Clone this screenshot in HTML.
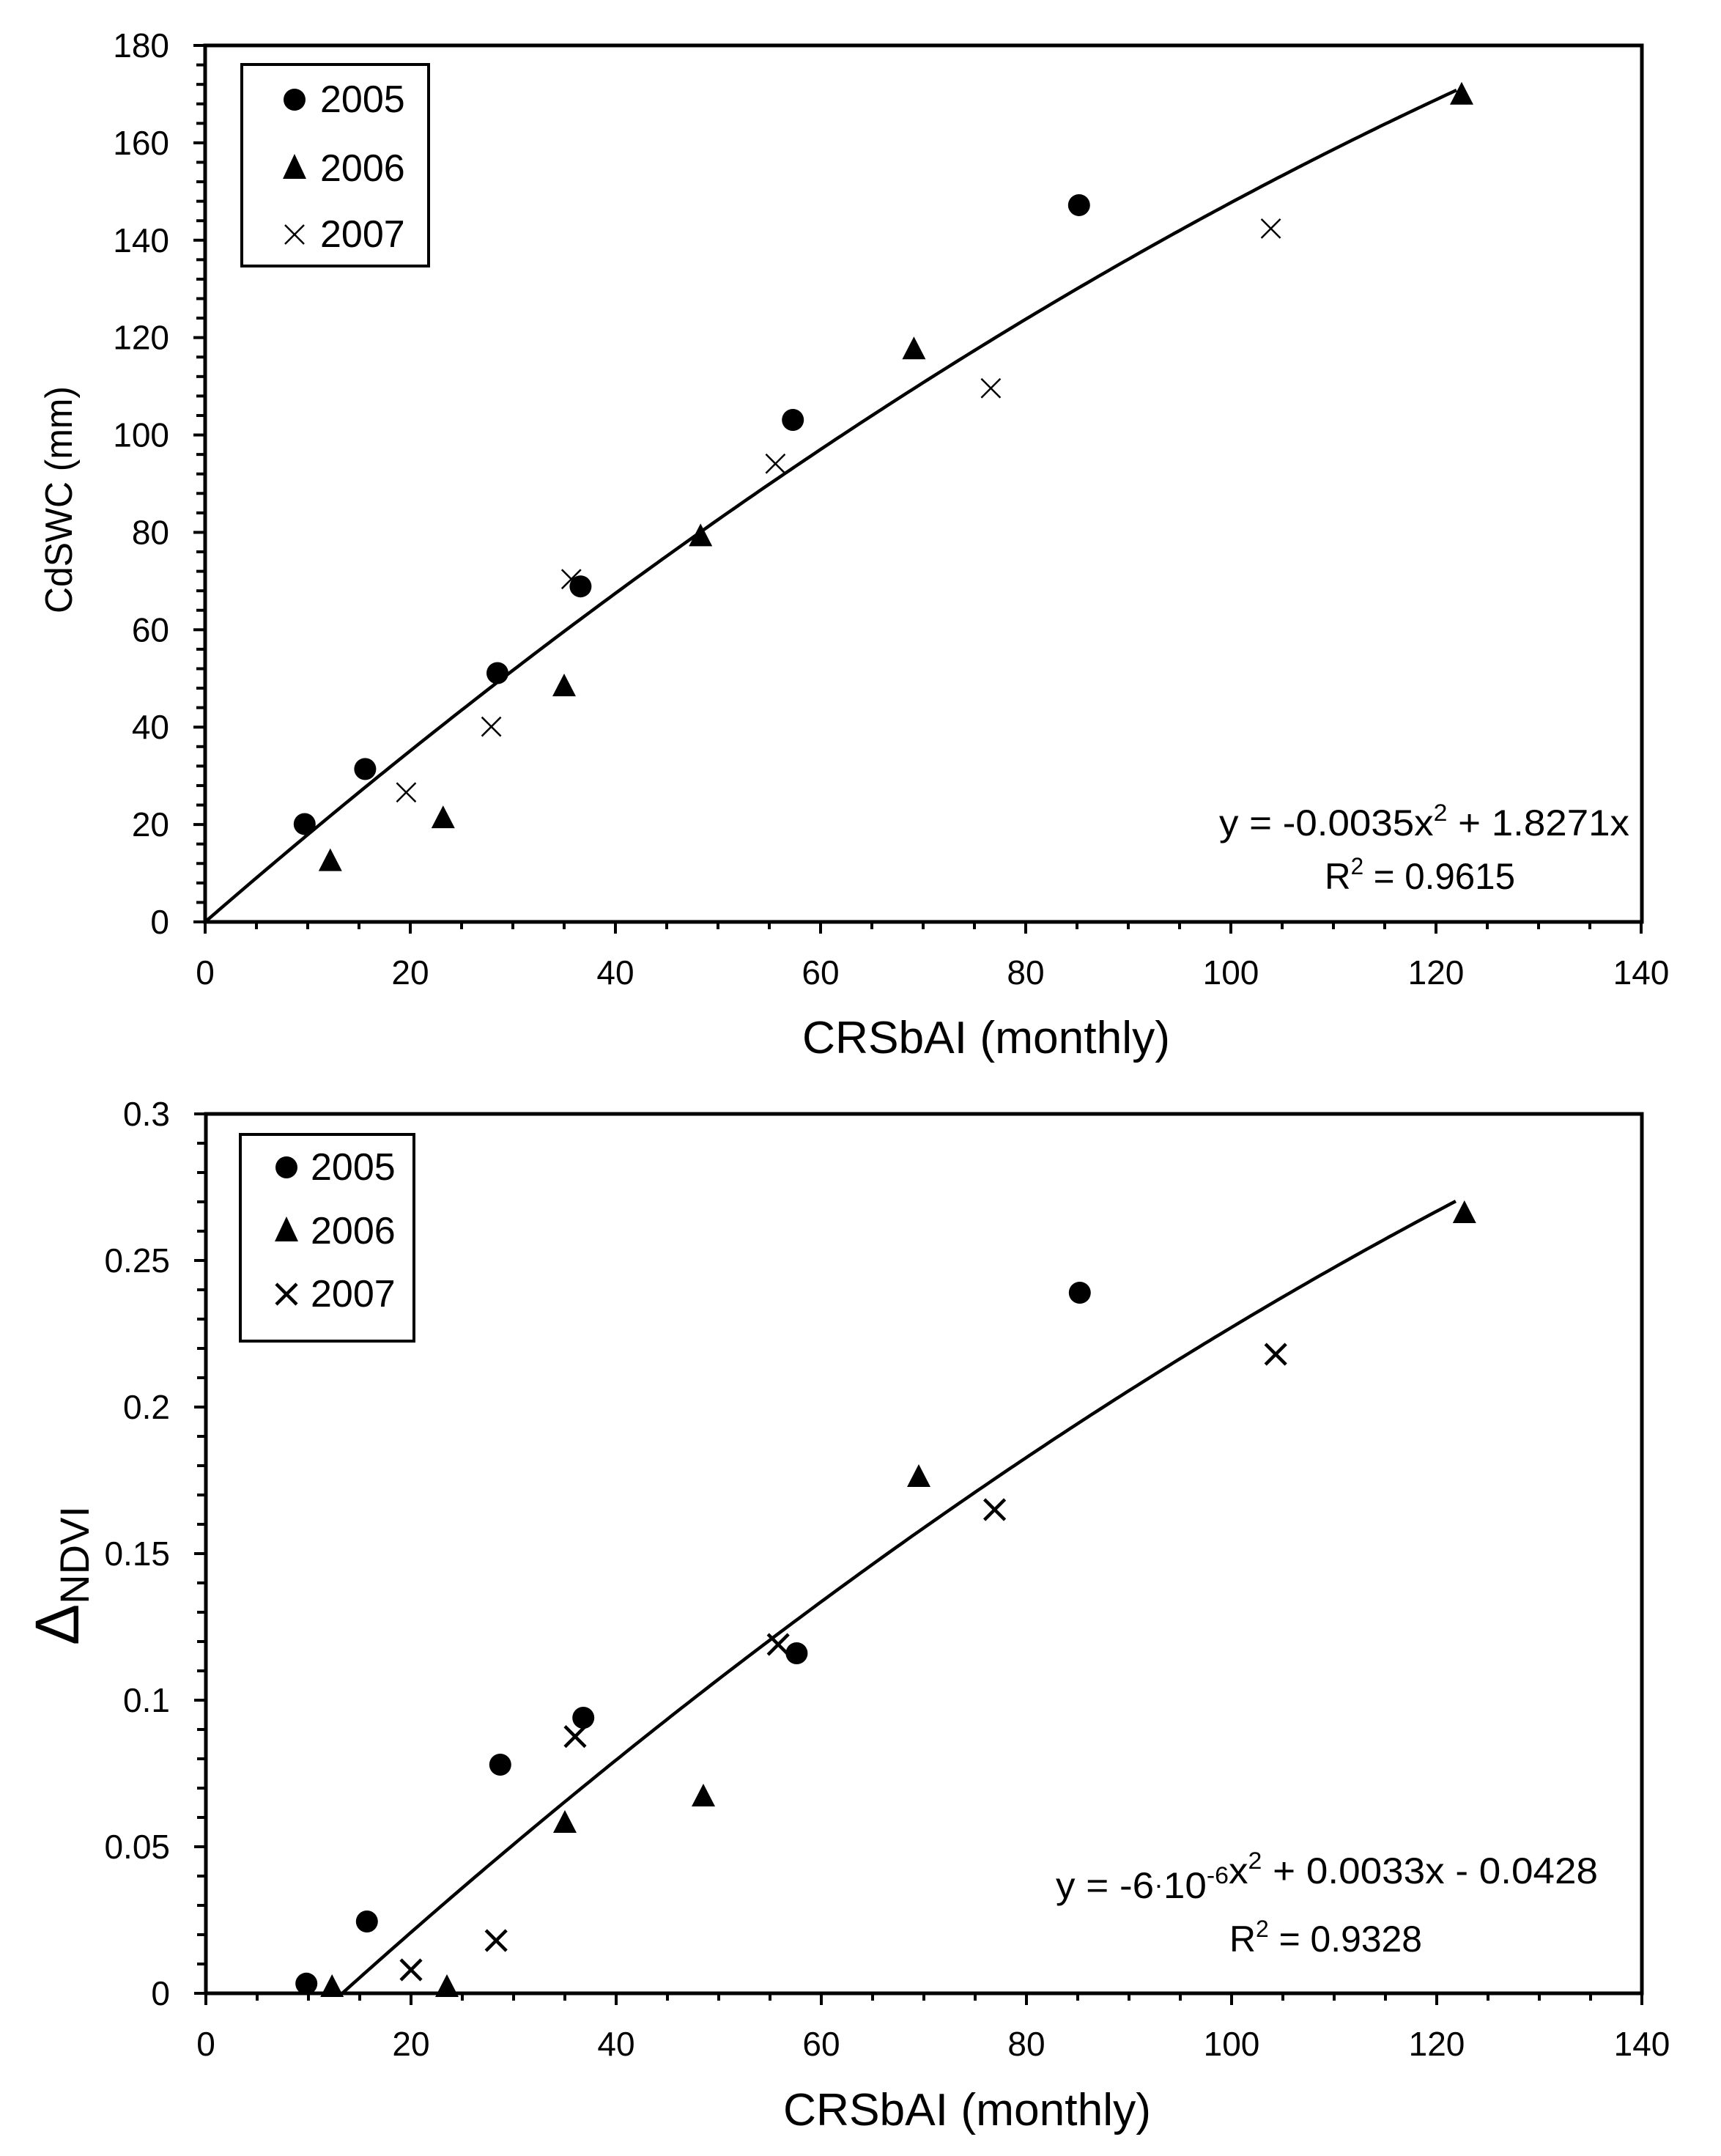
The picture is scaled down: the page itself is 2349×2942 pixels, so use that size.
<!DOCTYPE html>
<html><head><meta charset="utf-8"><style>
html,body{margin:0;padding:0;background:#fff;}
svg{display:block;font-family:"Liberation Sans",sans-serif;}
</style></head><body>
<svg id="s" xmlns="http://www.w3.org/2000/svg" width="2349" height="2942" viewBox="0 0 2349 2942">
<rect width="2349" height="2942" fill="#fff"/>
<text x="98" y="682" font-size="52" text-anchor="middle" transform="rotate(-90 98 682)" textLength="310" lengthAdjust="spacingAndGlyphs">CdSWC (mm)</text>
<text x="1346" y="1437" font-size="62" text-anchor="middle" textLength="502" lengthAdjust="spacingAndGlyphs">CRSbAI (monthly)</text>
<text x="1664" y="1140" font-size="50" textLength="560" lengthAdjust="spacingAndGlyphs">y = -0.0035x<tspan font-size="32" dy="-20">2</tspan><tspan dy="20"> + 1.8271x</tspan></text>
<text x="1808" y="1213" font-size="50" textLength="260" lengthAdjust="spacingAndGlyphs">R<tspan font-size="32" dy="-20">2</tspan><tspan dy="20"> = 0.9615</tspan></text>
<text x="1320" y="2900" font-size="62" text-anchor="middle" textLength="502" lengthAdjust="spacingAndGlyphs">CRSbAI (monthly)</text>
<text x="1441" y="2590" font-size="50" textLength="740" lengthAdjust="spacingAndGlyphs">y = -6<tspan font-size="36" dy="-6">·</tspan><tspan dy="6">10</tspan><tspan font-size="32" dy="-20">-6</tspan><tspan dy="0">x</tspan><tspan font-size="32" dy="-20">2</tspan><tspan dy="20"> + 0.0033x - 0.0428</tspan></text>
<text x="1678" y="2663" font-size="50" textLength="263" lengthAdjust="spacingAndGlyphs">R<tspan font-size="32" dy="-20">2</tspan><tspan dy="20"> = 0.9328</tspan></text>
<g transform="rotate(-90 85 2150)"><text x="85" y="2172" font-size="84" text-anchor="middle">Δ<tspan font-size="56" dy="14">NDVI</tspan></text></g>
</svg>
<script>
var S=document.getElementById('s'),NS='http://www.w3.org/2000/svg';
function el(t,a,txt){var e=document.createElementNS(NS,t);for(var k in a)e.setAttribute(k,a[k]);if(txt!=null)e.textContent=txt;S.appendChild(e);return e;}
function line(x1,y1,x2,y2,w){el('line',{x1:x1,y1:y1,x2:x2,y2:y2,stroke:'#000','stroke-width':w||4});}
function plot(o){
 var X=function(v){return o.x0+v*14;},Y=function(v){return o.y0-v*o.ys;};
 el('rect',{x:o.x0,y:o.yt,width:o.x1-o.x0,height:o.y0-o.yt,fill:'none',stroke:'#000','stroke-width':5});
 for(var v=0;v<=140;v+=5){var maj=v%20==0;line(X(v),o.y0,X(v),o.y0+(maj?16:10),4);
  if(maj)el('text',{x:X(v),y:o.y0+85,'font-size':46,'text-anchor':'middle'},String(v));}
 for(var i=0;i<=o.yn;i++){var v=i*o.ym;var maj=i%o.yk==0;var yy=Y(v);line(o.x0-(maj?16:12),yy,o.x0,yy,4);
  if(maj)el('text',{x:o.x0-49,y:yy+16,'font-size':46,'text-anchor':'end'},o.fmt(v));}
 var L=o.leg;el('rect',{x:L.x,y:L.y,width:L.w,height:L.h,fill:'#fff',stroke:'#000','stroke-width':4});
 var names=['2005','2006','2007'];
 for(var k=0;k<3;k++){var by=L.b[k],mx=L.mx,cy=by-17;
  if(k==0)el('circle',{cx:mx,cy:cy,r:15,fill:'#000'});
  if(k==1)el('polygon',{points:(mx-16)+','+(cy+14)+' '+(mx+16)+','+(cy+14)+' '+mx+','+(cy-20),fill:'#000'});
  if(k==2){var s=o.xs;line(mx-s,cy-s,mx+s,cy+s,o.xw);line(mx-s,cy+s,mx+s,cy-s,o.xw);}
  el('text',{x:L.tx,y:by,'font-size':52},names[k]);}
 var d='';for(var x=o.c0;x<=122.01;x+=0.5){d+=(d?'L':'M')+X(x).toFixed(1)+','+Y(o.f(x)).toFixed(1);}
 el('path',{d:d,fill:'none',stroke:'#000','stroke-width':4.5});
 o.d05.forEach(function(p){el('circle',{cx:X(p[0]),cy:Y(p[1]),r:15,fill:'#000'});});
 o.d06.forEach(function(p){var x=X(p[0]),y=Y(p[1]);el('polygon',{points:(x-16)+','+(y+13)+' '+(x+16)+','+(y+13)+' '+x+','+(y-18),fill:'#000'});});
 o.d07.forEach(function(p){var x=X(p[0]),y=Y(p[1]),s=o.xs;line(x-s,y-s,x+s,y+s,o.xw);line(x-s,y+s,x+s,y-s,o.xw);});
}
plot({x0:280,x1:2241,yt:62,y0:1258,ys:1196/180,yn:45,ym:4,yk:5,fmt:function(v){return String(v);},
 leg:{x:330,y:88,w:255,h:275,b:[153,247,337],mx:402,tx:437},xs:13,xw:2.5,c0:0,
 f:function(x){return -0.0035*x*x+1.8271*x;},
 d05:[[9.7,20.1],[15.6,31.4],[28.5,51.1],[36.6,68.9],[57.3,103.1],[85.2,147.2]],
 d06:[[12.2,12.4],[23.2,21.2],[35.0,48.3],[48.3,79.1],[69.1,117.5],[122.5,169.8]],
 d07:[[19.6,26.6],[27.9,40.1],[35.7,70.4],[55.6,94.1],[76.6,109.6],[103.9,142.4]]});
plot({x0:281,x1:2241,yt:1520,y0:2720,ys:4000,yn:30,ym:0.01,yk:5,fmt:function(v){var r=Math.round(v*100)/100;return String(r);},
 leg:{x:328,y:1548,w:237,h:282,b:[1610,1697,1783],mx:391,tx:424},xs:14,xw:4.5,c0:13.35,
 f:function(x){return -6e-6*x*x+0.0033*x-0.0428;},
 d05:[[9.8,0.0033],[15.7,0.0245],[28.7,0.078],[36.8,0.094],[57.6,0.116],[85.2,0.239]],
 d06:[[12.3,0.002],[23.5,0.002],[35.0,0.058],[48.5,0.067],[69.5,0.176],[122.7,0.266]],
 d07:[[20,0.008],[28.3,0.018],[36,0.0876],[55.8,0.119],[76.9,0.165],[104.3,0.218]]});
</script>
</body></html>
